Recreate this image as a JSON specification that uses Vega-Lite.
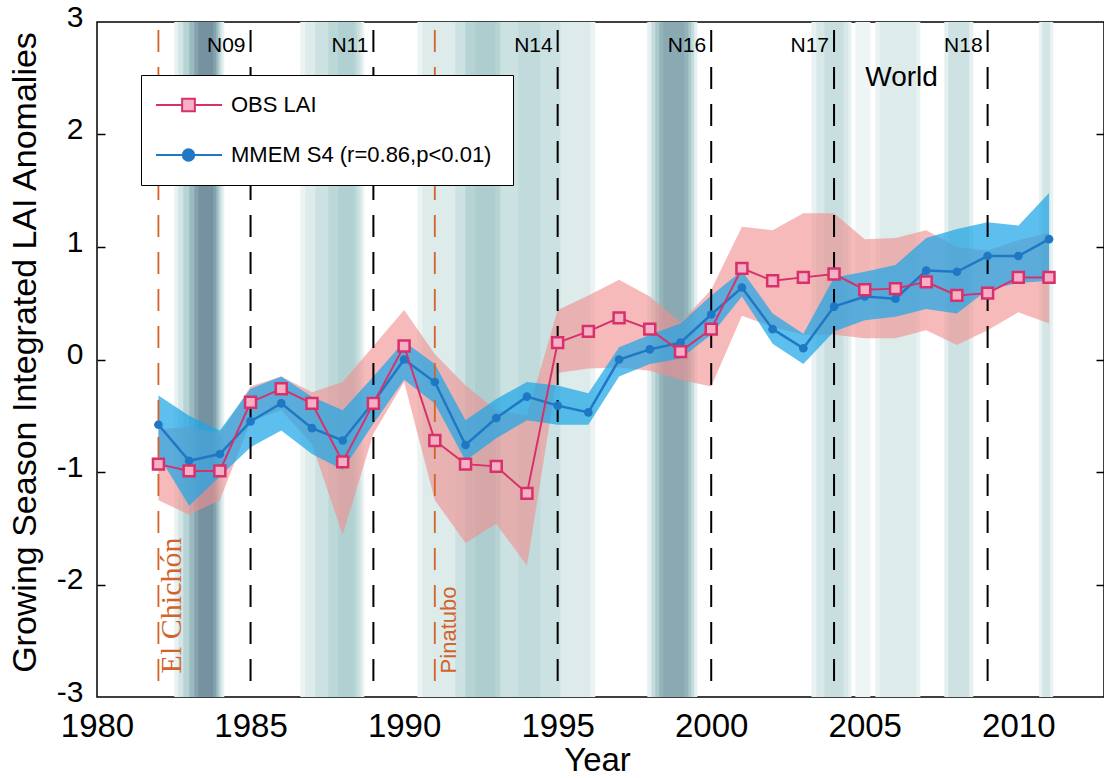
{
  "$schema": "https://vega.github.io/schema/vega-lite/v6.json",
  "width": 1007,
  "height": 675,
  "autosize": {"type": "none"},
  "padding": {"left": 97, "top": 22, "right": 0, "bottom": 81},
  "background": "white",
  "config": {
    "font": "Liberation Sans",
    "view": {"stroke": "black", "strokeWidth": 1.5},
    "axis": {"grid": false, "labelColor": "black", "titleColor": "black", "titleFontWeight": "normal"},
    "axisX": {
      "labelFontSize": 33,
      "labelPadding": 13,
      "labelFlush": false,
      "ticks": false,
      "domain": false,
      "titleFontSize": 33,
      "titleX": 500,
      "titleY": 63,
      "titleBaseline": "middle"
    }
  },
  "datasets": {
    "lai": [
      {"year": 1982, "obs": -0.93, "obs_lo": -1.25, "obs_hi": -0.62, "mod": -0.58, "mod_lo": -0.85, "mod_hi": -0.32},
      {"year": 1983, "obs": -0.99, "obs_lo": -1.38, "obs_hi": -0.60, "mod": -0.90, "mod_lo": -1.30, "mod_hi": -0.50},
      {"year": 1984, "obs": -0.99, "obs_lo": -1.25, "obs_hi": -0.66, "mod": -0.84, "mod_lo": -1.04, "mod_hi": -0.63},
      {"year": 1985, "obs": -0.38, "obs_lo": -0.55, "obs_hi": -0.24, "mod": -0.55, "mod_lo": -0.78, "mod_hi": -0.26},
      {"year": 1986, "obs": -0.26, "obs_lo": -0.45, "obs_hi": -0.15, "mod": -0.39, "mod_lo": -0.63, "mod_hi": -0.15},
      {"year": 1987, "obs": -0.39, "obs_lo": -0.75, "obs_hi": -0.29, "mod": -0.61, "mod_lo": -0.84, "mod_hi": -0.33},
      {"year": 1988, "obs": -0.91, "obs_lo": -1.56, "obs_hi": -0.20, "mod": -0.72, "mod_lo": -0.98, "mod_hi": -0.45},
      {"year": 1989, "obs": -0.39, "obs_lo": -0.66, "obs_hi": 0.12, "mod": -0.38, "mod_lo": -0.57, "mod_hi": -0.15},
      {"year": 1990, "obs": 0.12, "obs_lo": -0.20, "obs_hi": 0.44, "mod": 0.00, "mod_lo": -0.18, "mod_hi": 0.16},
      {"year": 1991, "obs": -0.72, "obs_lo": -1.25, "obs_hi": 0.05, "mod": -0.20, "mod_lo": -0.39, "mod_hi": -0.04},
      {"year": 1992, "obs": -0.93, "obs_lo": -1.63, "obs_hi": -0.23, "mod": -0.76, "mod_lo": -0.90, "mod_hi": -0.54},
      {"year": 1993, "obs": -0.95, "obs_lo": -1.46, "obs_hi": -0.45, "mod": -0.52, "mod_lo": -0.70, "mod_hi": -0.35},
      {"year": 1994, "obs": -1.19, "obs_lo": -1.83, "obs_hi": -0.50, "mod": -0.33, "mod_lo": -0.54, "mod_hi": -0.20},
      {"year": 1995, "obs": 0.15, "obs_lo": -0.12, "obs_hi": 0.44, "mod": -0.41, "mod_lo": -0.58, "mod_hi": -0.23},
      {"year": 1996, "obs": 0.25, "obs_lo": -0.08, "obs_hi": 0.57, "mod": -0.47, "mod_lo": -0.58, "mod_hi": -0.30},
      {"year": 1997, "obs": 0.37, "obs_lo": -0.07, "obs_hi": 0.71, "mod": 0.00, "mod_lo": -0.15, "mod_hi": 0.11},
      {"year": 1998, "obs": 0.27, "obs_lo": -0.10, "obs_hi": 0.56, "mod": 0.09, "mod_lo": -0.04, "mod_hi": 0.22},
      {"year": 1999, "obs": 0.07, "obs_lo": -0.18, "obs_hi": 0.33, "mod": 0.15, "mod_lo": 0.01, "mod_hi": 0.32},
      {"year": 2000, "obs": 0.27, "obs_lo": -0.24, "obs_hi": 0.62, "mod": 0.40, "mod_lo": 0.22, "mod_hi": 0.57},
      {"year": 2001, "obs": 0.81, "obs_lo": 0.39, "obs_hi": 1.18, "mod": 0.64, "mod_lo": 0.56, "mod_hi": 0.79},
      {"year": 2002, "obs": 0.70, "obs_lo": 0.29, "obs_hi": 1.15, "mod": 0.27, "mod_lo": 0.14, "mod_hi": 0.41},
      {"year": 2003, "obs": 0.73, "obs_lo": 0.22, "obs_hi": 1.30, "mod": 0.10, "mod_lo": -0.04, "mod_hi": 0.23},
      {"year": 2004, "obs": 0.76, "obs_lo": 0.22, "obs_hi": 1.30, "mod": 0.47, "mod_lo": 0.25, "mod_hi": 0.73},
      {"year": 2005, "obs": 0.62, "obs_lo": 0.19, "obs_hi": 1.07, "mod": 0.56, "mod_lo": 0.35, "mod_hi": 0.78},
      {"year": 2006, "obs": 0.63, "obs_lo": 0.19, "obs_hi": 1.08, "mod": 0.54, "mod_lo": 0.38, "mod_hi": 0.84},
      {"year": 2007, "obs": 0.69, "obs_lo": 0.26, "obs_hi": 1.15, "mod": 0.79, "mod_lo": 0.45, "mod_hi": 1.08},
      {"year": 2008, "obs": 0.57, "obs_lo": 0.13, "obs_hi": 1.00, "mod": 0.78, "mod_lo": 0.41, "mod_hi": 1.16},
      {"year": 2009, "obs": 0.59, "obs_lo": 0.26, "obs_hi": 0.97, "mod": 0.92, "mod_lo": 0.62, "mod_hi": 1.22},
      {"year": 2010, "obs": 0.73, "obs_lo": 0.42, "obs_hi": 1.06, "mod": 0.92, "mod_lo": 0.68, "mod_hi": 1.19},
      {"year": 2011, "obs": 0.73, "obs_lo": 0.32, "obs_hi": 1.13, "mod": 1.07, "mod_lo": 0.70, "mod_hi": 1.48}
    ],
    "shading": [
      {"start": 1982.517, "end": 1984.145, "level": 0.1},
      {"start": 1982.647, "end": 1984.080, "level": 0.25},
      {"start": 1982.810, "end": 1984.015, "level": 0.45},
      {"start": 1983.005, "end": 1983.950, "level": 0.65},
      {"start": 1983.168, "end": 1983.885, "level": 0.82},
      {"start": 1983.299, "end": 1983.787, "level": 0.95},
      {"start": 1986.620, "end": 1988.704, "level": 0.08},
      {"start": 1986.783, "end": 1988.639, "level": 0.18},
      {"start": 1987.109, "end": 1988.574, "level": 0.3},
      {"start": 1987.532, "end": 1988.476, "level": 0.42},
      {"start": 1987.857, "end": 1988.378, "level": 0.5},
      {"start": 1990.430, "end": 1996.226, "level": 0.08},
      {"start": 1990.593, "end": 1996.063, "level": 0.18},
      {"start": 1991.667, "end": 1995.087, "level": 0.3},
      {"start": 1991.993, "end": 1993.133, "level": 0.45},
      {"start": 1992.318, "end": 1992.970, "level": 0.52},
      {"start": 1993.719, "end": 1994.435, "level": 0.38},
      {"start": 1997.919, "end": 1999.548, "level": 0.12},
      {"start": 1998.049, "end": 1999.450, "level": 0.35},
      {"start": 1998.180, "end": 1999.352, "level": 0.55},
      {"start": 1998.310, "end": 1999.255, "level": 0.7},
      {"start": 1998.440, "end": 1999.124, "level": 0.78},
      {"start": 2003.264, "end": 2004.567, "level": 0.1},
      {"start": 2003.427, "end": 2004.469, "level": 0.22},
      {"start": 2003.688, "end": 2004.306, "level": 0.32},
      {"start": 2004.692, "end": 2005.181, "level": 0.06},
      {"start": 2005.344, "end": 2006.810, "level": 0.1},
      {"start": 2005.507, "end": 2006.680, "level": 0.18},
      {"start": 2007.590, "end": 2008.534, "level": 0.12},
      {"start": 2007.720, "end": 2008.404, "level": 0.28},
      {"start": 2010.680, "end": 2011.136, "level": 0.1},
      {"start": 2010.778, "end": 2011.039, "level": 0.25}
    ],
    "events": [
      {"year": 1982, "label": "El Chichón", "kind": "volcano"},
      {"year": 1991, "label": "Pinatubo", "kind": "volcano"},
      {"year": 1985, "label": "N09", "kind": "sat"},
      {"year": 1989, "label": "N11", "kind": "sat"},
      {"year": 1995, "label": "N14", "kind": "sat"},
      {"year": 2000, "label": "N16", "kind": "sat"},
      {"year": 2004, "label": "N17", "kind": "sat"},
      {"year": 2009, "label": "N18", "kind": "sat"}
    ],
    "notes": [
      {"year": 2006.2, "value": 2.5, "text": "World"}
    ]
  },
  "resolve": {"axis": {"y": "independent"}},
  "layer": [
    {
      "data": {"name": "shading"},
      "mark": {"type": "rect"},
      "encoding": {
        "x": {
          "field": "start", "type": "quantitative", "title": "Year",
          "scale": {"domain": [1980, 2012.79], "nice": false, "zero": false},
          "axis": {"values": [1980, 1985, 1990, 1995, 2000, 2005, 2010], "format": "d", "labelFlush": false}
        },
        "x2": {"field": "end"},
        "fill": {
          "field": "level", "type": "quantitative", "legend": null,
          "scale": {"domain": [0, 0.5, 1], "range": ["#f7fafa", "#b0d0d1", "#708a9a"]}
        }
      }
    },
    {
      "data": {"name": "lai"},
      "mark": {"type": "area", "color": "#f18f8f", "opacity": 0.62},
      "encoding": {
        "x": {"field": "year", "type": "quantitative", "title": "Year", "scale": {"domain": [1980, 2012.79], "nice": false, "zero": false}},
        "y": {
          "field": "obs_lo", "type": "quantitative",
          "scale": {"domain": [-3, 3], "nice": false, "zero": false},
          "axis": {"orient": "right", "offset": -8, "tickSize": 8, "tickWidth": 1.5, "tickColor": "black", "labels": false, "domain": false, "title": null, "values": [-2, -1, 0, 1, 2]}
        },
        "y2": {"field": "obs_hi"}
      }
    },
    {
      "data": {"name": "lai"},
      "mark": {"type": "area", "color": "#1fa6e6", "opacity": 0.72},
      "encoding": {
        "x": {"field": "year", "type": "quantitative", "title": "Year", "scale": {"domain": [1980, 2012.79], "nice": false, "zero": false}},
        "y": {"field": "mod_lo", "type": "quantitative", "scale": {"domain": [-3, 3], "nice": false, "zero": false}, "axis": null},
        "y2": {"field": "mod_hi"}
      }
    },
    {
      "data": {"name": "events"},
      "transform": [{"filter": "datum.kind === 'sat'"}],
      "mark": {"type": "rule", "color": "black", "strokeWidth": 2, "strokeDash": [22, 15]},
      "encoding": {
        "x": {"field": "year", "type": "quantitative", "title": "Year", "scale": {"domain": [1980, 2012.79], "nice": false, "zero": false}},
        "y": {"datum": 2.93, "type": "quantitative", "scale": {"domain": [-3, 3], "nice": false, "zero": false}, "axis": null},
        "y2": {"datum": -2.88}
      }
    },
    {
      "data": {"name": "events"},
      "transform": [{"filter": "datum.kind === 'volcano'"}],
      "mark": {"type": "rule", "color": "#d2632a", "strokeWidth": 1.8, "strokeDash": [22, 15]},
      "encoding": {
        "x": {"field": "year", "type": "quantitative", "title": "Year", "scale": {"domain": [1980, 2012.79], "nice": false, "zero": false}},
        "y": {"datum": 2.93, "type": "quantitative", "scale": {"domain": [-3, 3], "nice": false, "zero": false}, "axis": null},
        "y2": {"datum": -2.88}
      }
    },
    {
      "data": {"name": "lai"},
      "mark": {"type": "line", "strokeWidth": 2.5},
      "encoding": {
        "x": {"field": "year", "type": "quantitative", "title": "Year", "scale": {"domain": [1980, 2012.79], "nice": false, "zero": false}},
        "y": {
          "field": "mod", "type": "quantitative",
          "scale": {"domain": [-3, 3], "nice": false, "zero": false},
          "axis": {"orient": "left", "offset": -8, "tickSize": 8, "tickWidth": 1.5, "tickColor": "black", "labels": false, "domain": false, "title": null, "values": [-2, -1, 0, 1, 2]}
        },
        "color": {"datum": "MMEM S4  (r=0.86,p<0.01)"}
      }
    },
    {
      "data": {"name": "lai"},
      "mark": {"type": "point", "shape": "circle", "filled": true, "size": 75, "color": "#1f78c4", "opacity": 1},
      "encoding": {
        "x": {"field": "year", "type": "quantitative", "title": "Year", "scale": {"domain": [1980, 2012.79], "nice": false, "zero": false}},
        "y": {"field": "mod", "type": "quantitative", "scale": {"domain": [-3, 3], "nice": false, "zero": false}, "axis": null}
      }
    },
    {
      "data": {"name": "lai"},
      "mark": {"type": "line", "strokeWidth": 2},
      "encoding": {
        "x": {"field": "year", "type": "quantitative", "title": "Year", "scale": {"domain": [1980, 2012.79], "nice": false, "zero": false}},
        "y": {
          "field": "obs", "type": "quantitative",
          "title": "Growing Season Integrated LAI Anomalies",
          "scale": {"domain": [-3, 3], "nice": false, "zero": false},
          "axis": {
            "orient": "left", "values": [-3, -2, -1, 0, 1, 2, 3], "format": "d",
            "labelExpr": "replace(datum.label, '\u2212', '-')",
            "ticks": false, "domain": false, "labelFontSize": 30, "labelPadding": 14, "labelOffset": -5,
            "titleFontSize": 34, "titleX": -72, "titleY": 330, "titleBaseline": "middle", "titleAlign": "center"
          }
        },
        "color": {
          "datum": "OBS LAI",
          "scale": {"domain": ["OBS LAI", "MMEM S4  (r=0.86,p<0.01)"], "range": ["#d7306a", "#1f78c4"]},
          "legend": {
            "orient": "none", "legendX": 44, "legendY": 53, "title": null,
            "strokeColor": "black", "fillColor": "white", "padding": 15,
            "labelFontSize": 22, "labelColor": "black", "labelLimit": 400,
            "symbolSize": 4489, "symbolStrokeWidth": 2, "clipHeight": 30, "rowPadding": 20,
            "symbolOffset": -2, "labelOffset": 8,
            "encode": {
              "symbols": {
                "update": {
                  "shape": {"signal": "datum.value === 'OBS LAI' ? 'M-1,0H-0.19M0.19,0H1M-0.19,-0.19H0.19V0.19H-0.19Z' : 'M-1,0H1M0.17,0A0.17,0.17,0,1,1,-0.17,0A0.17,0.17,0,1,1,0.17,0Z'"},
                  "fill": {"signal": "datum.value === 'OBS LAI' ? '#f6b0c6' : '#1f78c4'"},
                  "stroke": {"signal": "datum.value === 'OBS LAI' ? '#d7306a' : '#1f78c4'"},
                  "strokeWidth": {"value": 2},
                  "opacity": {"value": 1}
                }
              }
            }
          }
        }
      }
    },
    {
      "data": {"name": "lai"},
      "mark": {"type": "point", "shape": "square", "filled": true, "size": 120, "fill": "#f6b0c6", "stroke": "#d7306a", "strokeWidth": 2.5, "opacity": 1},
      "encoding": {
        "x": {"field": "year", "type": "quantitative", "title": "Year", "scale": {"domain": [1980, 2012.79], "nice": false, "zero": false}},
        "y": {"field": "obs", "type": "quantitative", "scale": {"domain": [-3, 3], "nice": false, "zero": false}, "axis": null}
      }
    },
    {
      "data": {"name": "events"},
      "transform": [{"filter": "datum.kind === 'sat'"}],
      "mark": {"type": "text", "align": "right", "baseline": "middle", "dx": -5, "fontSize": 21, "color": "black"},
      "encoding": {
        "x": {"field": "year", "type": "quantitative", "title": "Year", "scale": {"domain": [1980, 2012.79], "nice": false, "zero": false}},
        "y": {"datum": 2.79, "type": "quantitative", "scale": {"domain": [-3, 3], "nice": false, "zero": false}, "axis": null},
        "text": {"field": "label"}
      }
    },
    {
      "data": {"name": "events"},
      "transform": [{"filter": "datum.label === 'El Chichón'"}],
      "mark": {"type": "text", "angle": 270, "align": "left", "baseline": "top", "dy": -1, "font": "Liberation Serif", "fontSize": 30, "color": "#d2632a"},
      "encoding": {
        "x": {"field": "year", "type": "quantitative", "title": "Year", "scale": {"domain": [1980, 2012.79], "nice": false, "zero": false}},
        "y": {"datum": -2.79, "type": "quantitative", "scale": {"domain": [-3, 3], "nice": false, "zero": false}, "axis": null},
        "text": {"field": "label"}
      }
    },
    {
      "data": {"name": "events"},
      "transform": [{"filter": "datum.label === 'Pinatubo'"}],
      "mark": {"type": "text", "angle": 270, "align": "left", "baseline": "top", "dy": 4, "fontSize": 22, "color": "#d2632a"},
      "encoding": {
        "x": {"field": "year", "type": "quantitative", "title": "Year", "scale": {"domain": [1980, 2012.79], "nice": false, "zero": false}},
        "y": {"datum": -2.79, "type": "quantitative", "scale": {"domain": [-3, 3], "nice": false, "zero": false}, "axis": null},
        "text": {"field": "label"}
      }
    },
    {
      "data": {"name": "notes"},
      "mark": {"type": "text", "align": "center", "baseline": "middle", "fontSize": 28, "color": "black"},
      "encoding": {
        "x": {"field": "year", "type": "quantitative", "title": "Year", "scale": {"domain": [1980, 2012.79], "nice": false, "zero": false}},
        "y": {"field": "value", "type": "quantitative", "scale": {"domain": [-3, 3], "nice": false, "zero": false}, "axis": null},
        "text": {"field": "text"}
      }
    }
  ]
}
